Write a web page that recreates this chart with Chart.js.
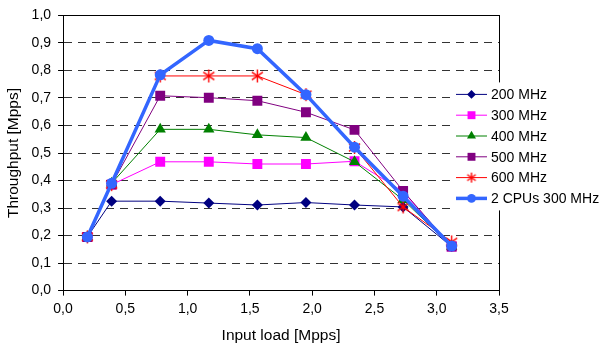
<!DOCTYPE html>
<html>
<head>
<meta charset="utf-8">
<script src="https://cdn.jsdelivr.net/npm/chart.js@4/dist/chart.umd.min.js"></script>
<style>
  html, body { margin: 0; padding: 0; background: #fff; }
  #wrap { width: 600px; height: 345px; }
</style>
</head>
<body>
<div id="wrap"><canvas id="myChart"></canvas></div>
<script>
"use strict";

// Input load [Mpps] at each measurement
const inputLoad = [0.195, 0.39, 0.78, 1.17, 1.56, 1.95, 2.34, 2.73, 3.12];

// Throughput [Mpps] per configuration
const mhz200 = [0.195, 0.325, 0.325, 0.318, 0.311, 0.32, 0.311, 0.304, 0.16];
const mhz300 = [0.195, 0.385, 0.468, 0.468, 0.46, 0.46, 0.47, 0.36, 0.16];
const mhz400 = [0.195, 0.39, 0.586, 0.586, 0.566, 0.556, 0.468, 0.33, 0.16];
const mhz500 = [0.195, 0.385, 0.708, 0.701, 0.69, 0.648, 0.584, 0.362, 0.16];
const mhz600 = [0.195, 0.385, 0.78, 0.78, 0.78, 0.712, 0.52, 0.304, 0.177];
const dualCpu300 = [0.195, 0.39, 0.784, 0.909, 0.879, 0.712, 0.521, 0.343, 0.162];

const seriesNames = ['200 MHz', '300 MHz', '400 MHz', '500 MHz', '600 MHz', '2 CPUs 300 MHz'];
const seriesValues = [mhz200, mhz300, mhz400, mhz500, mhz600, dualCpu300];

const FONT = 'Arial, "Liberation Sans", sans-serif';
const commaFmt = (v) => v.toFixed(1).replace('.', ',');

// excel-like asterisk marker (x + vertical bar)
const makeStar = (size, color) => {
  const c = document.createElement('canvas');
  c.width = size; c.height = size;
  const g = c.getContext('2d');
  const m = size / 2, r = size / 2 - 1;
  g.strokeStyle = color;
  g.lineWidth = 1.4;
  g.beginPath();
  g.moveTo(m, m - r); g.lineTo(m, m + r);
  g.moveTo(m - r * 0.85, m - r * 0.6); g.lineTo(m + r * 0.85, m + r * 0.6);
  g.moveTo(m + r * 0.85, m - r * 0.6); g.lineTo(m - r * 0.85, m + r * 0.6);
  g.stroke();
  return c;
};
const starBig = makeStar(15, '#FF0000');
const starSmall = makeStar(12, '#FF0000');

const styles = [
  { color: '#000080', point: 'rectRot', radius: 5.5, width: 1 },
  { color: '#FF00FF', point: 'rect', radius: 7, width: 1 },
  { color: '#008000', point: 'triangle', radius: 6.5, width: 1 },
  { color: '#800080', point: 'rect', radius: 7, width: 1 },
  { color: '#FF0000', point: starBig, radius: 6, width: 1 },
  { color: '#3366FF', point: 'circle', radius: 5.5, width: 3.5 }
];

const datasets = seriesNames.map((name, i) => ({
  label: name,
  data: seriesValues[i].map((y, k) => ({ x: inputLoad[k], y })),
  borderColor: styles[i].color,
  backgroundColor: styles[i].color,
  borderWidth: styles[i].width,
  pointStyle: styles[i].point,
  pointRadius: styles[i].radius,
  pointBorderWidth: 0,
  pointBackgroundColor: styles[i].color,
  order: seriesNames.length - i,
  tension: 0
}));

const frameAndLegend = {
  id: 'frameAndLegend',
  afterDatasetsDraw(chart) {
    const { ctx, chartArea: a } = chart;
    const { drawPoint } = Chart.helpers;
    ctx.save();
    ctx.strokeStyle = '#000';
    ctx.lineWidth = 1;
    ctx.setLineDash([]);
    ctx.strokeRect(Math.round(a.left) + 0.5, Math.round(a.top) + 0.5,
      Math.round(a.right - a.left), Math.round(a.bottom - a.top));

    // legend box sits over the right edge of the plot
    const lx = a.right - 47, ly = a.top + 67;
    ctx.fillStyle = '#fff';
    ctx.fillRect(lx, ly, chart.width - lx, 128);

    chart.data.datasets.forEach((ds, i) => {
      const y = ly + 12 + i * 20.8;
      ctx.strokeStyle = ds.borderColor;
      ctx.lineWidth = ds.borderWidth;
      ctx.beginPath();
      ctx.moveTo(lx + 4, y);
      ctx.lineTo(lx + 35, y);
      ctx.stroke();
      const mx = lx + 19.5;
      if (typeof ds.pointStyle === 'string') {
        ctx.fillStyle = ds.pointBackgroundColor;
        drawPoint(ctx, { pointStyle: ds.pointStyle, radius: ds.pointRadius * 0.8, rotation: 0, borderWidth: 0 }, mx, y);
      } else {
        ctx.drawImage(starSmall, mx - 6, y - 6);
      }
      ctx.fillStyle = '#000';
      ctx.font = '14px ' + FONT;
      ctx.textBaseline = 'middle';
      ctx.textAlign = 'left';
      ctx.fillText(ds.label, lx + 39, y + 1);
    });
    ctx.restore();
  }
};

new Chart(document.getElementById('myChart'), {
  type: 'line',
  data: { datasets },
  options: {
    animation: false,
    responsive: true,
    maintainAspectRatio: false,
    layout: { padding: { top: 6, right: 101, bottom: 0, left: 4 } },
    plugins: { legend: { display: false }, tooltip: { enabled: false } },
    scales: {
      x: {
        type: 'linear',
        min: 0,
        max: 3.5,
        ticks: { stepSize: 0.5, callback: commaFmt, color: '#000', font: { family: FONT, size: 14 }, padding: 5, maxRotation: 0 },
        grid: { drawOnChartArea: false, drawTicks: true, tickLength: 5, tickColor: '#000' },
        border: { color: '#000', width: 1 },
        title: { display: true, text: 'Input load [Mpps]', color: '#000', font: { family: FONT, size: 15.5 }, padding: { top: 4, bottom: 0 } }
      },
      y: {
        min: 0,
        max: 1,
        ticks: { stepSize: 0.1, callback: commaFmt, color: '#000', font: { family: FONT, size: 14 }, padding: 7 },
        grid: { color: '#333', tickLength: 5, tickColor: '#000', tickBorderDash: [] },
        border: { color: '#000', width: 1, dash: [8, 6] },
        title: { display: true, text: 'Throughput [Mpps]', color: '#000', font: { family: FONT, size: 15.5 }, padding: { top: 0, bottom: 2 } }
      }
    }
  },
  plugins: [frameAndLegend]
});
</script>
</body>
</html>
